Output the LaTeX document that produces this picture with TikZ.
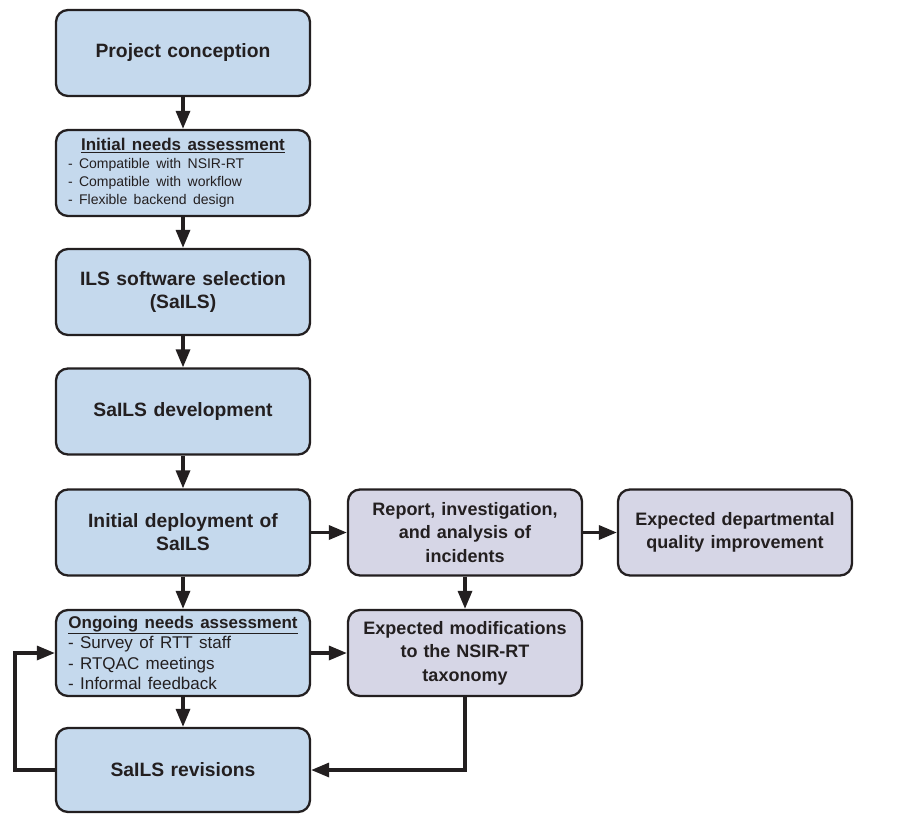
\documentclass[tikz,border=0pt]{standalone}
\usepackage{fontspec}
\setmainfont{Liberation Sans}
\usetikzlibrary{arrows.meta}
\definecolor{bluefill}{HTML}{C5D9ED}
\definecolor{greyfill}{HTML}{D6D6E6}
\definecolor{ink}{HTML}{231F20}
\tikzset{
  box/.style={draw=ink, line width=2.3pt, rounded corners=12pt, inner sep=0pt,
    text=ink, align=center},
  bluebox/.style={box, fill=bluefill, minimum width=254pt, minimum height=86pt,
    text width=240pt, font=\fontsize{19.3}{23}\selectfont\bfseries},
  greybox/.style={box, fill=greyfill, minimum width=234pt, minimum height=86pt,
    text width=220pt, font=\fontsize{18}{23.5}\selectfont\bfseries},
  conn/.style={draw=ink, line width=3.3pt, -{Triangle[length=18pt,width=14pt]}},
}
\begin{document}
\begin{tikzpicture}[x=1pt,y=-1pt]
\useasboundingbox (0,0) rectangle (901,813);
\node[bluebox] (pc) at (183,53) {Project conception};
\node[bluebox] (ina) at (183,173) {\begin{minipage}{230pt}\centering{\fontsize{17}{20}\selectfont\bfseries\underline{Initial needs assessment}\par}\raggedright\fontsize{14}{18}\selectfont\mdseries - Compatible with NSIR-RT\\- Compatible with workflow\\- Flexible backend design\end{minipage}};
\node[bluebox] (ils) at (183,292) {ILS software selection\\(SaILS)};
\node[bluebox] (dev) at (183,411.5) {SaILS development};
\node[bluebox] (dep) at (183,532.5) {Initial deployment of\\SaILS};
\node[bluebox] (ong) at (183,653) {\begin{minipage}{230pt}\centering{\fontsize{17}{20}\selectfont\bfseries\underline{Ongoing needs assessment}\par}\raggedright\fontsize{17}{20.5}\selectfont\mdseries - Survey of RTT staff\\- RTQAC meetings\\- Informal feedback\end{minipage}};
\node[bluebox, minimum height=84pt] (rev) at (183,770) {SaILS revisions};
\node[greybox] (rep) at (465,532.5) {Report, investigation,\\and analysis of\\incidents};
\node[greybox] (mod) at (465,653) {Expected modifications\\to the NSIR-RT\\taxonomy};
\node[greybox] (qual) at (735,532.5) {Expected departmental\\quality improvement};
\coordinate (loopl) at (15,0);
\coordinate (corner) at (465,770);
\draw[conn] (pc) -- (ina);
\draw[conn] (ina) -- (ils);
\draw[conn] (ils) -- (dev);
\draw[conn] (dev) -- (dep);
\draw[conn] (dep) -- (ong);
\draw[conn] (ong) -- (rev);
\draw[conn] (dep) -- (rep);
\draw[conn] (rep) -- (qual);
\draw[conn] (rep) -- (mod);
\draw[conn] (ong) -- (mod);
\draw[conn] (mod.south) -- (corner) -- (rev.east);
\draw[conn] (rev.west) -- (rev.west -| loopl) -- (ong.west -| loopl) -- (ong.west);
\end{tikzpicture}
\end{document}
